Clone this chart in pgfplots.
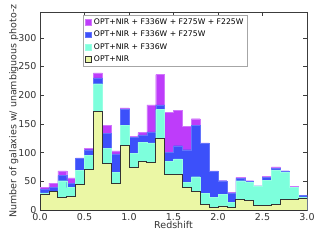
\documentclass[border=0pt]{standalone}
\usepackage{pgfplots}
\pgfplotsset{compat=1.18}
\usepackage{pgfplotstable}
\usepackage{fontspec}
\setmainfont{DejaVu Sans}
\definecolor{cmag}{RGB}{190,60,250}
\definecolor{cblue}{RGB}{60,80,250}
\definecolor{ccyan}{RGB}{125,255,220}
\definecolor{cyel}{RGB}{235,247,165}
\definecolor{cframe}{RGB}{60,60,60}
% bin left edges, cumulative counts (last row repeats final bin at x=3.0)
\pgfplotstableread{
x opt cyan blue mag
0.0 27 30 37 40
0.1 32 33 39 47
0.2 22 51 60 68
0.3 24 39 47 56
0.4 45 69 90 91
0.5 70 95 105 107
0.6 172 220 230 239
0.7 81 107 133 148
0.8 46 65 98 103
0.9 113 147 176 178
1.0 74 99 127 128
1.1 85 118 131 135
1.2 83 117 136 183
1.3 125 175 183 236
1.4 62 85 101 170
1.5 62 89 112 174
1.6 40 48 105 146
1.7 33 58 147 159
1.8 9 29 116 117
1.9 4 22 67 68
2.0 7 27 51 51
2.1 5 13 30 31
2.2 19 51 55 57
2.3 16 48 50 51
2.4 8 42 42 42
2.5 8 52 57 59
2.6 9 70 73 75
2.7 18 65 68 68
2.8 19 39 39 41
2.9 20 23 25 26
3.0 20 23 25 26
}\hist
\begin{document}
\begin{tikzpicture}
\begin{axis}[
  scale only axis, width=267pt, height=198pt,
  xmin=0, xmax=3, ymin=0, ymax=345,
  xtick={0,0.5,...,3.0},
  xticklabels={0.0,0.5,1.0,1.5,2.0,2.5,3.0},
  ytick={0,50,...,300},
  tick align=inside, tick pos=both,
  major tick length=4pt,
  every tick/.style={cframe, line width=0.5pt},
  axis line style={cframe, line width=0.8pt},
  ticklabel style={font=\fontsize{9.5}{10}\selectfont, text=black!80},
  /pgf/number format/assume math mode=true,
  xlabel={Redshift}, ylabel={Number of galaxies w/ unambiguous photo-z},
  label style={font=\fontsize{9.5}{10}\selectfont, text=black!80},
  xlabel shift=-6pt, ylabel shift=-7pt,
  legend style={at={(0.161,0.985)}, anchor=north west, font=\fontsize{7.7}{8}\selectfont,
    draw=black!35, row sep=1.2pt, inner sep=1.5pt},
  legend cell align=left,
  legend image code/.code={\draw[#1] (0pt,-2.8pt) rectangle (6.5pt,2.8pt);},
]
\addplot[const plot, fill=cmag, draw=cmag!70!white] table[x=x,y=mag]{\hist} \closedcycle;
\addlegendentry{OPT+NIR + F336W + F275W + F225W}
\addplot[const plot, fill=cblue, draw=cblue!80!white] table[x=x,y=blue]{\hist} \closedcycle;
\addlegendentry{OPT+NIR + F336W + F275W}
\addplot[const plot, fill=ccyan, draw=ccyan!80!white] table[x=x,y=cyan]{\hist} \closedcycle;
\addlegendentry{OPT+NIR + F336W}
\addplot[const plot, fill=cyel, draw=black!80, line width=0.8pt] table[x=x,y=opt]{\hist} \closedcycle;
\addlegendentry{OPT+NIR}
\end{axis}
\path (current axis.south west) ++(-40pt,-30pt) rectangle ++(320pt,240pt);
\end{tikzpicture}
\end{document}
